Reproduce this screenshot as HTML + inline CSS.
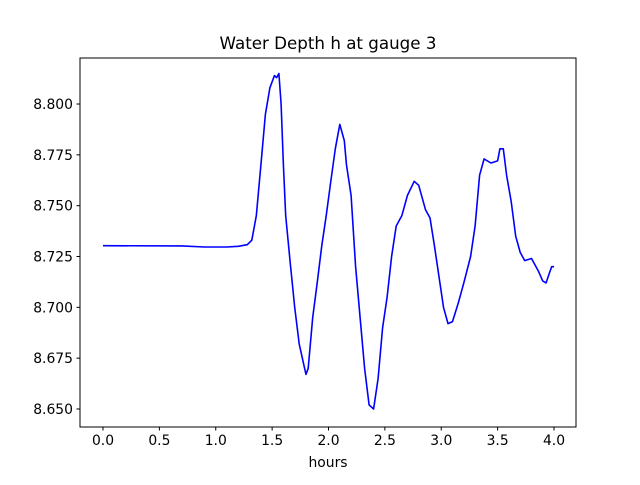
<!DOCTYPE html>
<html><head><meta charset="utf-8"><style>
body{margin:0;background:#fff;}
svg text{font-family:"DejaVu Sans","Liberation Sans",sans-serif;fill:#000;}
</style></head><body>
<svg id="chart" width="640" height="480" xmlns="http://www.w3.org/2000/svg">
<rect x="0" y="0" width="640" height="480" fill="#fff"/>
<text x="328" y="49" font-size="16.7" text-anchor="middle">Water Depth h at gauge 3</text>
<g id="xticks"></g>
<g id="yticks"></g>
<path id="series" fill="none" stroke="#0000ff" stroke-width="1.6" stroke-linejoin="round"/>
<rect x="80" y="58" width="496" height="369" fill="none" stroke="#000" stroke-width="1"/>
<text x="328" y="467" font-size="13.9" text-anchor="middle">hours</text>
</svg>
<script>
const hours=[0,0.7,0.9,1.1,1.2,1.28,1.32,1.36,1.4,1.44,1.48,1.52,1.54,1.56,1.58,1.6,1.62,1.66,1.7,1.74,1.78,1.8,1.82,1.86,1.9,1.94,1.98,2.02,2.06,2.1,2.14,2.16,2.2,2.24,2.28,2.32,2.36,2.4,2.44,2.48,2.52,2.56,2.6,2.65,2.7,2.76,2.8,2.86,2.9,2.94,2.98,3.02,3.06,3.1,3.15,3.2,3.26,3.3,3.34,3.38,3.44,3.5,3.52,3.55,3.58,3.62,3.66,3.7,3.74,3.8,3.86,3.9,3.93,3.96,3.98,4.0];
const depth=[8.7303,8.7302,8.7297,8.7297,8.7300,8.7308,8.733,8.745,8.770,8.795,8.808,8.814,8.813,8.815,8.800,8.770,8.745,8.722,8.700,8.682,8.672,8.667,8.670,8.695,8.712,8.730,8.745,8.762,8.778,8.790,8.782,8.770,8.755,8.720,8.695,8.670,8.652,8.650,8.665,8.690,8.705,8.725,8.740,8.745,8.755,8.762,8.760,8.748,8.744,8.730,8.715,8.700,8.692,8.693,8.702,8.712,8.725,8.740,8.765,8.773,8.771,8.772,8.778,8.778,8.765,8.752,8.735,8.727,8.723,8.724,8.718,8.713,8.712,8.717,8.720,8.720];
const xTickLabels=["0.0","0.5","1.0","1.5","2.0","2.5","3.0","3.5","4.0"];
const yTickLabels=["8.650","8.675","8.700","8.725","8.750","8.775","8.800"];
const NS="http://www.w3.org/2000/svg";
function xs(v){return 103+v*112.75;}
function ys(v){return 409-(v-8.65)/0.025*50.83;}
const xg=document.getElementById('xticks'),yg=document.getElementById('yticks');
xTickLabels.forEach(t=>{const x=xs(parseFloat(t));
 const l=document.createElementNS(NS,'line');l.setAttribute('x1',x);l.setAttribute('x2',x);l.setAttribute('y1',427);l.setAttribute('y2',430.5);l.setAttribute('stroke','#000');
 
 xg.appendChild(l);
 const tx=document.createElementNS(NS,'text');tx.setAttribute('x',x);tx.setAttribute('y',445);tx.setAttribute('font-size','13.9');tx.setAttribute('text-anchor','middle');tx.textContent=t;
 
 xg.appendChild(tx);});
yTickLabels.forEach(t=>{const y=ys(parseFloat(t));
 const l=document.createElementNS(NS,'line');l.setAttribute('x1',76.5);l.setAttribute('x2',80);l.setAttribute('y1',y);l.setAttribute('y2',y);l.setAttribute('stroke','#000');
 
 yg.appendChild(l);
 const tx=document.createElementNS(NS,'text');tx.setAttribute('x',73);tx.setAttribute('y',y+5);tx.setAttribute('font-size','13.9');tx.setAttribute('text-anchor','end');tx.textContent=t;
 
 yg.appendChild(tx);});
document.getElementById('series').setAttribute('d',hours.map((h,i)=>(i?'L':'M')+xs(h).toFixed(1)+','+ys(depth[i]).toFixed(1)).join(''));
</script>
</body></html>
